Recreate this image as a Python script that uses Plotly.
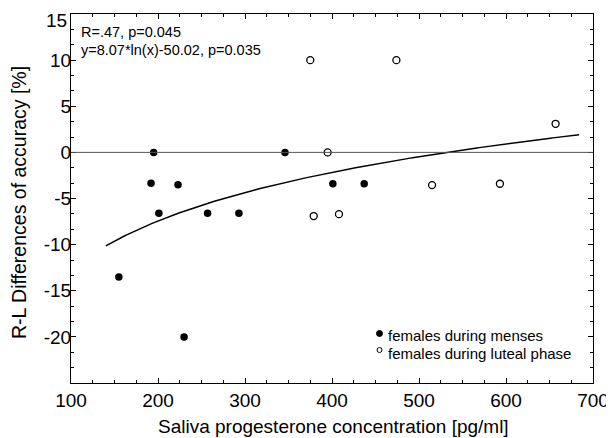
import numpy as np
import plotly.graph_objects as go

# Data
menses_x = [155, 192, 195, 201, 223, 230, 257, 293, 346, 401, 437]
menses_y = [-13.5, -3.35, 0.0, -6.6, -3.5, -20.0, -6.6, -6.6, 0.0, -3.4, -3.4]
luteal_x = [375, 379, 395, 408, 474, 515, 593, 657]
luteal_y = [10.0, -6.9, 0.0, -6.7, 10.0, -3.55, -3.4, 3.1]

# Fitted logarithmic curve as drawn (y = a*ln(x) + b)
fit_a = 7.6
fit_b = -47.7
fit_x_range = [140, 684]

x_ticks = [100, 200, 300, 400, 500, 600, 700]
y_ticks = [15, 10, 5, 0, -5, -10, -15, -20]

FONT = "Liberation Sans, Arial, sans-serif"

# page body has an 8px margin; positions below are in window pixels
OFF = 8
PL, PR, PT, PB = 71, 593, 14, 383
PW, PH = PR - PL, PB - PT


def px(x):
    return (x - PL) / PW


def py(y):
    return (PB - y) / PH


fx = np.linspace(fit_x_range[0], fit_x_range[1], 200)
fy = fit_a * np.log(fx) + fit_b

fig = go.Figure()
fig.add_trace(go.Scatter(x=fx, y=fy, mode="lines",
                         line=dict(color="black", width=1.5), hoverinfo="skip"))
fig.add_trace(go.Scatter(x=menses_x, y=menses_y, mode="markers",
                         marker=dict(symbol="circle", size=7.5, color="black"),
                         name="females during menses"))
fig.add_trace(go.Scatter(x=luteal_x, y=luteal_y, mode="markers",
                         marker=dict(symbol="circle-open", size=7, color="black",
                                     line=dict(width=1.3)),
                         name="females during luteal phase"))

axis_common = dict(
    showgrid=False, zeroline=False, showline=True, linecolor="black", linewidth=1.2,
    mirror="allticks", ticks="inside", ticklen=5, tickcolor="black", tickwidth=1,
    tickfont=dict(family=FONT, size=19, color="black"), ticklabeloverflow="allow",
    automargin=False,
)

fig.update_xaxes(range=[100, 700], tickvals=x_ticks, ticktext=[str(v) for v in x_ticks],
                 minor=dict(dtick=25, ticks="inside", ticklen=3, tickcolor="black"),
                 **axis_common)
# the top label (15) sits slightly below its tick in the original; drawn separately
y_ticktext = [""] + [str(v) for v in y_ticks[1:]]
fig.update_yaxes(range=[-25, 15], tickvals=y_ticks, ticktext=y_ticktext,
                 minor=dict(tick0=0, dtick=5/3, ticks="inside", ticklen=3, tickcolor="black"),
                 ticklabelstandoff=-5, **axis_common)

shapes = [
    dict(type="line", xref="x", yref="y", x0=100, x1=700, y0=0, y1=0,
         line=dict(color="#555555", width=1)),
    # legend symbols
    dict(type="circle", xref="paper", yref="paper",
         x0=px(376.5), x1=px(382.5), y0=py(336.5), y1=py(330.5),
         fillcolor="black", line=dict(color="black", width=1)),
    dict(type="circle", xref="paper", yref="paper",
         x0=px(377), x1=px(382), y0=py(352.5), y1=py(347.5),
         fillcolor="white", line=dict(color="black", width=1)),
]

annotations = [
    dict(text=str(y_ticks[0]), xref="paper", yref="paper",
         x=px(69), y=py(21), xanchor="right", yanchor="middle",
         showarrow=False, font=dict(family=FONT, size=19, color="black")),
    dict(text="R=.47, p=0.045", xref="paper", yref="paper",
         x=px(79), y=py(32), xanchor="left", yanchor="middle",
         showarrow=False, font=dict(family=FONT, size=14.5, color="black")),
    dict(text="y=8.07*ln(x)-50.02, p=0.035", xref="paper", yref="paper",
         x=px(79), y=py(50), xanchor="left", yanchor="middle",
         showarrow=False, font=dict(family=FONT, size=14.5, color="black")),
    dict(text="females during menses", xref="paper", yref="paper",
         x=px(386), y=py(335), xanchor="left", yanchor="middle",
         showarrow=False, font=dict(family=FONT, size=15, color="black")),
    dict(text="females during luteal phase", xref="paper", yref="paper",
         x=px(386), y=py(353), xanchor="left", yanchor="middle",
         showarrow=False, font=dict(family=FONT, size=15, color="black")),
    dict(text="Saliva progesterone concentration [pg/ml]", xref="paper", yref="paper",
         x=px(333), y=py(426), xanchor="center", yanchor="middle",
         showarrow=False, font=dict(family=FONT, size=19, color="black")),
    dict(text="R-L Differences of accuracy [%]", xref="paper", yref="paper",
         x=px(19), y=py(203), xanchor="center", yanchor="middle",
         textangle=-90, showarrow=False, font=dict(family=FONT, size=19.5, color="black")),
]

fig.update_layout(
    width=614 - OFF, height=438 - OFF,
    margin=dict(l=PL - OFF, r=614 - PR, t=PT - OFF, b=438 - PB, pad=0),
    paper_bgcolor="white", plot_bgcolor="white",
    showlegend=False,
    shapes=shapes, annotations=annotations,
)

fig.write_html("out.html")
